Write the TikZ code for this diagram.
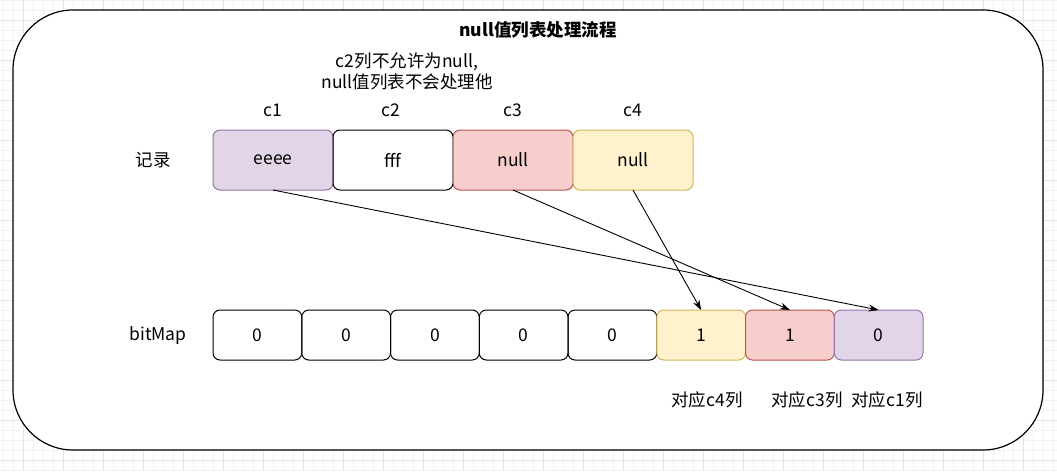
\documentclass[tikz,border=0pt]{standalone}
\usepackage{fontspec}
\setmainfont{Noto Sans CJK SC}
\usetikzlibrary{positioning,arrows.meta}
\definecolor{purplefill}{HTML}{E1D5E7}
\definecolor{purpleline}{HTML}{9673A6}
\definecolor{redfill}{HTML}{F8CECC}
\definecolor{redline}{HTML}{B85450}
\definecolor{yellowfill}{HTML}{FFF2CC}
\definecolor{yellowline}{HTML}{D6B656}
\definecolor{gridminor}{HTML}{F2F2F2}
\definecolor{gridmajor}{HTML}{E4E4E4}
\begin{document}
\begin{tikzpicture}[
x=1pt, y=-1pt,
font=\fontsize{17.5}{21}\selectfont,
every node/.style = {align=center, inner sep=0pt},
panel/.style = {shape=rectangle, rounded corners=60pt, draw, line width=1.2pt, fill=white,
  minimum width=1030pt, minimum height=440pt},
cell/.style = {shape=rectangle, rounded corners=7pt, draw, line width=1pt, outer sep=0pt,
  minimum width=120pt, minimum height=60pt},
bit/.style = {cell, minimum width=88.75pt, minimum height=50pt},
purplecell/.style = {fill=purplefill, draw=purpleline},
redcell/.style = {fill=redfill, draw=redline},
yellowcell/.style = {fill=yellowfill, draw=yellowline},
link/.style = {-{Stealth[length=10pt,width=7pt]}, line width=0.9pt},
]
  \useasboundingbox (0,0) rectangle (1057,471);
  % grid
  \foreach \gx in {3,13,...,1053} \draw[gridminor, line width=0.8pt] (\gx,0) -- (\gx,471);
  \foreach \gy in {0,10,...,470} \draw[gridminor, line width=0.8pt] (0,\gy) -- (1057,\gy);
  \foreach \gx in {23,63,...,1043} \draw[gridmajor, line width=0.8pt] (\gx,0) -- (\gx,471);
  \foreach \gy in {20,60,...,460} \draw[gridmajor, line width=0.8pt] (0,\gy) -- (1057,\gy);

  \node[panel] (frame) at (528,230) {};
  \node[font=\fontsize{17.5}{21}\selectfont\bfseries] (title) at (538,30) {null值列表处理流程};
  \node (note) at (407,71) {c2列不允许为null,\\null值列表不会处理他};

  % record
  \node (reclabel) at (153,160) {记录};
  \node[cell, purplecell] (r1) at (273,160) {eeee};
  \node[cell, right=0pt of r1] (r2) {fff};
  \node[cell, redcell, right=0pt of r2] (r3) {null};
  \node[cell, yellowcell, right=0pt of r3] (r4) {null};
  \node (c1) at (273,110) {c1};
  \node (c2) at (391,110) {c2};
  \node (c3) at (513,110) {c3};
  \node (c4) at (633,110) {c4};

  % bitmap
  \node (bitlabel) at (158,336) {bitMap};
  \node[bit] (b1) at (257.4,335) {0};
  \node[bit, right=0pt of b1] (b2) {0};
  \node[bit, right=0pt of b2] (b3) {0};
  \node[bit, right=0pt of b3] (b4) {0};
  \node[bit, right=0pt of b4] (b5) {0};
  \node[bit, yellowcell, right=0pt of b5] (b6) {1};
  \node[bit, redcell, right=0pt of b6] (b7) {1};
  \node[bit, purplecell, right=0pt of b7] (b8) {0};
  \node (m4) at (707,400) {对应c4列};
  \node (m3) at (807,400) {对应c3列};
  \node (m1) at (887,400) {对应c1列};

  \draw[link] (r1.south) -- (b8.north);
  \draw[link] (r3.south) -- (b7.north);
  \draw[link] (r4.south) -- (b6.north);
\end{tikzpicture}
\end{document}
